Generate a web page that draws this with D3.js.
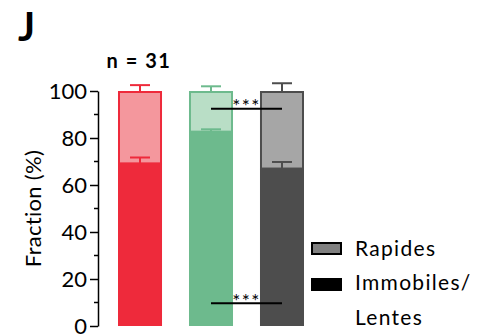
<!DOCTYPE html>
<html><head><meta charset="utf-8">
<script src="https://cdn.jsdelivr.net/npm/d3@7"></script>
<style>body{margin:0;background:#fff}svg{display:block}text{font-family:Lato,"Open Sans",sans-serif}</style>
</head><body><svg id="c" width="495" height="334"></svg>
<script>
const groups = ["A","B","C"];
const immobile = [69.2, 82.7, 67.0];
const immobileErr = [2.5, 1.0, 2.8];
const rapidErr = [2.5, 2.0, 3.3];
const darkColors = ["#EE2A3B","#6DBA8D","#4D4D4D"];
const lightColors = ["#F4979D","#B9DEC6","#A6A6A6"];
const yTicks = [0,20,40,60,80,100];
const minorTicks = [10,30,50,70,90];
const sigLines = [{y:92.5, from:1, to:2}, {y:9.7, from:1, to:2}];
const legendLabels = ["Rapides","Immobiles/"];

const svg = d3.select("#c");
const y = d3.scaleLinear().domain([0,100]).range([326,91]);
const x = d3.scaleBand().domain(groups).range([100.25,321.75]).paddingInner(0.38).paddingOuter(0.25);

// axis
const ax = svg.append("g").attr("transform","translate(98,0)")
  .call(d3.axisLeft(y).tickValues(yTicks).tickSize(8).tickSizeOuter(0).tickPadding(3));
ax.select(".domain").attr("stroke","#000").attr("stroke-width",1.5);
ax.selectAll(".tick line").attr("stroke","#000").attr("stroke-width",1.5);
ax.selectAll(".tick text").attr("font-size",22).attr("fill","#000").style("font-family","Lato");
ax.selectAll(".minor").data(minorTicks).enter().append("line")
  .attr("x1",-4).attr("x2",0).attr("y1",d=>y(d)).attr("y2",d=>y(d)).attr("stroke","#000").attr("stroke-width",1.5);

svg.append("text").attr("transform",`translate(41,${y(50)}) rotate(-90)`).attr("text-anchor","middle")
  .attr("font-size",22).attr("letter-spacing",0.3).text("Fraction (%)");
svg.append("text").attr("x",18).attr("y",40.5).attr("font-size",40).attr("font-weight","bold").text("J");
svg.append("text").attr("x",x("A")+x.bandwidth()/2 - 1).attr("y",68.3).attr("text-anchor","middle")
  .attr("font-size",20).attr("letter-spacing",1.5).attr("font-weight","bold").text("n = 31");

groups.forEach((g,i)=>{
  const x0 = x(g), w = x.bandwidth(), cx = x0 + w/2;
  svg.append("rect").attr("x",x0).attr("y",y(immobile[i])).attr("width",w).attr("height",y(0)-y(immobile[i]))
    .attr("fill",darkColors[i]);
  svg.append("rect").attr("x",x0+1).attr("y",y(100)+1).attr("width",w-2).attr("height",y(immobile[i])-y(100)-1)
    .attr("fill",lightColors[i]).attr("stroke",darkColors[i]).attr("stroke-width",2);
  const eb = (v0,v1)=>{
    svg.append("line").attr("x1",cx).attr("x2",cx).attr("y1",y(v0)).attr("y2",y(v1)).attr("stroke",darkColors[i]).attr("stroke-width",2);
    svg.append("line").attr("x1",cx-10).attr("x2",cx+10).attr("y1",y(v1)).attr("y2",y(v1)).attr("stroke",darkColors[i]).attr("stroke-width",2);
  };
  eb(100,100+rapidErr[i]);
  eb(immobile[i],immobile[i]+immobileErr[i]);
});

sigLines.forEach(s=>{
  const xa = x(groups[s.from])+x.bandwidth()/2, xb = x(groups[s.to])+x.bandwidth()/2;
  svg.append("line").attr("x1",xa).attr("x2",xb).attr("y1",y(s.y)).attr("y2",y(s.y)).attr("stroke","#000").attr("stroke-width",2);
  svg.append("text").attr("x",(xa+xb)/2).attr("y",y(s.y)+4.5).attr("text-anchor","middle").attr("font-size",19).attr("letter-spacing",1.5).text("***");
});

// legend
const lg = svg.append("g");
lg.append("rect").attr("x",312).attr("y",243).attr("width",29).attr("height",11).attr("fill","#808080").attr("stroke","#000").attr("stroke-width",2);
lg.append("rect").attr("x",311).attr("y",278).attr("width",31).attr("height",13).attr("fill","#000");
lg.append("text").attr("x",355).attr("y",255.7).attr("font-size",21).attr("letter-spacing",1.3).text(legendLabels[0]);
lg.append("text").attr("x",355).attr("y",290).attr("font-size",21).attr("letter-spacing",1.3).text(legendLabels[1]);
lg.append("text").attr("x",355).attr("y",325).attr("font-size",21).attr("letter-spacing",1.3).text("Lentes");
</script></body></html>
